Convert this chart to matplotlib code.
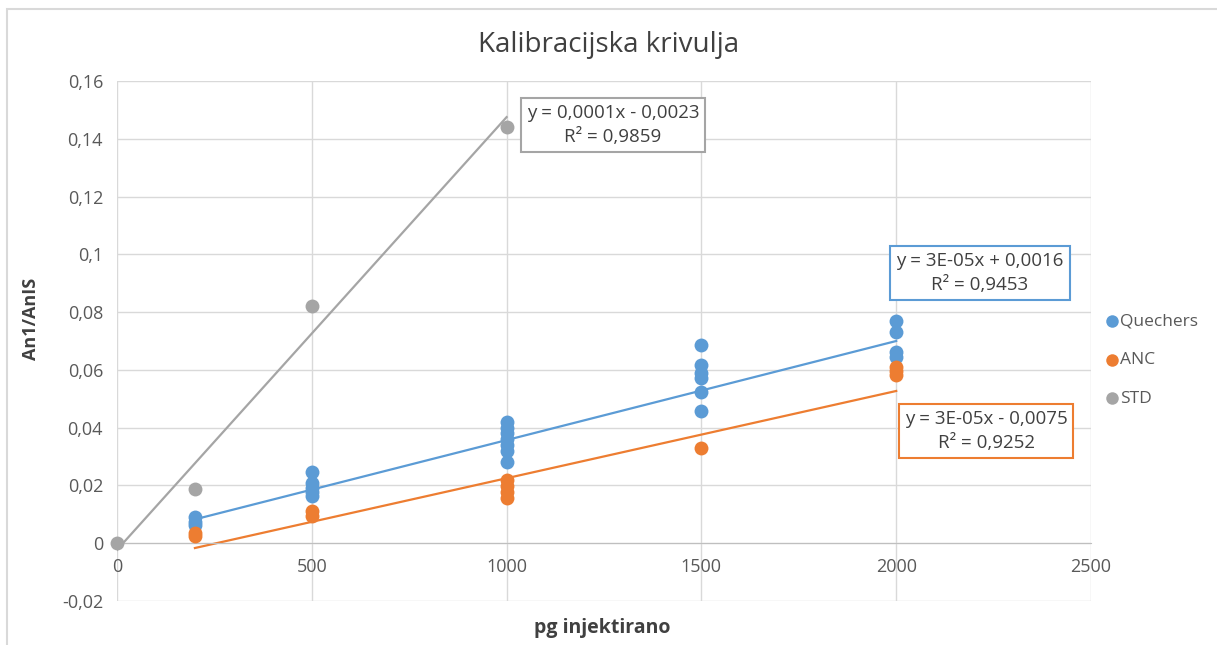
import matplotlib
matplotlib.use("Agg")
import matplotlib.pyplot as plt
from matplotlib.patches import Rectangle
from matplotlib.ticker import FuncFormatter
import numpy as np

plt.rcParams['font.family'] = ['Open Sans', 'DejaVu Sans']

# Data
quechers_x = [200, 200, 200, 500, 500, 500, 500, 500,
              1000, 1000, 1000, 1000, 1000, 1000, 1000,
              1500, 1500, 1500, 1500, 1500, 1500,
              2000, 2000, 2000, 2000]
quechers_y = [0.0090, 0.0073, 0.0062, 0.0246, 0.0210, 0.0192, 0.0177, 0.0162,
              0.0420, 0.0400, 0.0380, 0.0360, 0.0340, 0.0320, 0.0282,
              0.0686, 0.0616, 0.0589, 0.0571, 0.0523, 0.0457,
              0.0769, 0.0731, 0.0661, 0.0644]
anc_x = [200, 200, 500, 500, 1000, 1000, 1000, 1000, 1500, 2000, 2000, 2000]
anc_y = [0.0035, 0.0025, 0.0110, 0.0094, 0.0218, 0.0197, 0.0177, 0.0156,
         0.0329, 0.0610, 0.0596, 0.0582]
std_x = [0, 200, 500, 1000]
std_y = [0.0, 0.0187, 0.0820, 0.1440]

# Trendlines (slope, intercept, x range) and labels
trend_quechers = (3.43e-5, 0.0014, 200, 2000)
trend_anc = (3.02e-5, -0.0077, 200, 2000)
trend_std = (1.498e-4, -0.0023, 0, 1000)
eq_quechers = "y = 3E-05x + 0,0016\nR² = 0,9453"
eq_anc = "y = 3E-05x - 0,0075\nR² = 0,9252"
eq_std = "y = 0,0001x - 0,0023\nR² = 0,9859"

c_blue = '#5B9BD5'
c_orange = '#ED7D31'
c_gray = '#A5A5A5'
txt = '#595959'

W, H = 1217, 645
fig = plt.figure(figsize=(W / 100, H / 100), dpi=100)

# chart border
fig.patches.append(Rectangle((7 / W, -0.05), 1.2, (H - 9) / H + 0.05,
                             transform=fig.transFigure, fill=False,
                             edgecolor='#D9D9D9', linewidth=1.5))

ax = fig.add_axes([117 / W, (H - 601) / H, (1091 - 117) / W, (601 - 81) / H])
ax.set_xlim(0, 2500)
ax.set_ylim(-0.02, 0.16)
ax.set_xticks(np.arange(0, 2501, 500))
ax.set_yticks(np.arange(-0.02, 0.161, 0.02))


def yfmt(v, p):
    if abs(v) < 1e-9:
        return '0'
    s = f'{v:.2f}'.rstrip('0').rstrip('.')
    return s.replace('.', ',')


ax.yaxis.set_major_formatter(FuncFormatter(yfmt))
ax.grid(True, color='#D9D9D9', linewidth=1)
ax.set_axisbelow(True)
for s in ['top', 'right', 'left']:
    ax.spines[s].set_visible(False)
ax.spines['bottom'].set_position(('data', 0))
ax.spines['bottom'].set_color('#BFBFBF')
ax.tick_params(length=0, labelsize=13, colors=txt, pad=10)
ax.tick_params(axis='x', pad=11)

for (m, b, x0, x1), col in [(trend_std, c_gray), (trend_quechers, c_blue), (trend_anc, c_orange)]:
    xs = np.array([x0, x1])
    ax.plot(xs, m * xs + b, color=col, linewidth=1.6, zorder=2)

ax.scatter(quechers_x, quechers_y, s=100, color=c_blue, zorder=3, label='Quechers', linewidths=0)
ax.scatter(anc_x, anc_y, s=100, color=c_orange, zorder=3, label='ANC', linewidths=0)
ax.scatter(std_x, std_y, s=100, color=c_gray, zorder=3, label='STD', linewidths=0, clip_on=False)

boxkw = dict(ha='center', va='center', fontsize=13.5, color='#404040', linespacing=1.45)
ax.text(613 / W, (H - 125) / H, eq_std, transform=fig.transFigure,
        bbox=dict(boxstyle='square,pad=0.32', fc='white', ec=c_gray, lw=1.5), **boxkw)
ax.text(980 / W, (H - 273) / H, eq_quechers, transform=fig.transFigure,
        bbox=dict(boxstyle='square,pad=0.32', fc='white', ec=c_blue, lw=1.5), **boxkw)
ax.text(986 / W, (H - 431) / H, eq_anc, transform=fig.transFigure,
        bbox=dict(boxstyle='square,pad=0.32', fc='white', ec=c_orange, lw=1.5), **boxkw)

fig.text(602 / W, (H - 628) / H, 'pg injektirano', ha='center', va='center',
         fontsize=14, fontweight='bold', color='#404040')
fig.text(31 / W, (H - 319) / H, 'An1/AnIS', ha='center', va='center', rotation=90,
         fontsize=13, fontweight='bold', color='#404040')

fig.text(609 / W, (H - 45) / H, 'Kalibracijska krivulja', ha='center', va='center',
         fontsize=20, color='#404040')

leg = fig.legend(handles=ax.collections, labels=['Quechers', 'ANC', 'STD'],
                 loc='center left', bbox_to_anchor=(1096 / W, (H - 360) / H),
                 frameon=False, fontsize=12.5, markerscale=0.9, handletextpad=0.0,
                 labelspacing=1.3, labelcolor=txt, handlelength=1.0,
                 borderaxespad=0.0)

fig.savefig('out.png', dpi=100)
